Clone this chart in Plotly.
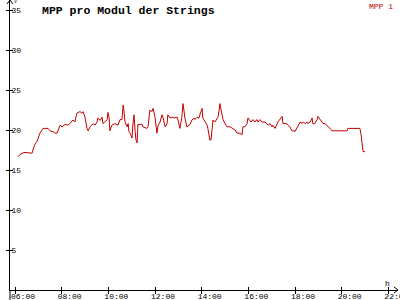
import plotly.graph_objects as go

title = "MPP pro Modul der Strings"
series_name = "MPP 1"
unit_y = "V"
unit_x = "h"

times = ["06:08","06:18","06:26","06:44","06:46","06:51","06:57","07:04","07:12","07:25",
         "07:30","07:38","07:43","07:48","07:56","08:01","08:09","08:16","08:21","08:29",
         "08:34","08:39","08:47","08:52","08:55","09:00","09:05","09:08","09:13","09:21",
         "09:26","09:31","09:33","09:39","09:44","09:46","09:51","09:57","09:59","10:02",
         "10:04","10:09","10:17","10:25","10:30","10:35","10:38","10:40","10:43","10:48",
         "10:51","10:53","10:56","11:01","11:03","11:06","11:09","11:11","11:14","11:16",
         "11:27","11:29","11:39","11:42","11:47","11:52","11:55","12:00","12:05","12:08",
         "12:13","12:18","12:21","12:26","12:31","12:33","12:39","12:44","12:49","12:57",
         "12:59","13:04","13:09","13:12","13:17","13:22","13:30","13:35","13:40","13:43",
         "13:48","13:53","13:56","14:01","14:03","14:09","14:14","14:16","14:19","14:21",
         "14:24","14:27","14:29","14:34","14:39","14:42","14:45","14:47","14:50","14:52",
         "14:55","15:00","15:05","15:13","15:21","15:26","15:31","15:39","15:44","15:46",
         "15:51","15:57","15:59","16:04","16:07","16:12","16:17","16:22","16:25","16:30",
         "16:35","16:43","16:48","16:51","16:56","17:01","17:03","17:09","17:16","17:27",
         "17:29","17:39","17:42","17:47","17:52","17:57","18:00","18:05","18:08","18:13",
         "18:18","18:21","18:26","18:31","18:33","18:39","18:44","18:46","18:51","18:57",
         "18:59","19:04","19:09","19:12","19:17","19:22","19:27","19:30","19:35","20:14",
         "20:16","20:47","20:50","20:52","20:55","21:00"]

values = [16.7,17.1,17.2,17.1,17.5,18.2,18.6,19.6,20.2,20.2,
          19.9,19.8,19.6,19.6,20.6,20.4,20.7,20.6,20.8,21.25,
          21.0,22.1,22.3,22.1,22.3,21.6,20.2,19.9,20.4,20.8,
          20.6,21.0,21.5,21.2,21.6,20.8,21.0,21.3,22.2,21.5,
          19.9,20.6,20.8,20.6,21.3,21.3,23.1,22.5,21.0,20.4,
          20.8,19.8,19.6,19.0,20.6,21.9,19.8,18.8,18.4,20.7,
          20.7,20.4,20.2,20.4,22.5,22.3,22.7,21.6,19.6,20.6,
          21.0,21.9,21.5,20.4,20.8,21.9,21.5,21.6,21.5,21.6,
          21.3,20.2,21.6,23.3,21.5,20.4,20.7,21.25,21.5,21.3,
          21.6,21.5,22.0,22.7,21.5,21.0,20.6,20.2,19.4,18.75,
          18.75,20.6,21.25,21.0,21.3,21.6,22.5,23.3,22.5,21.9,
          21.3,20.8,20.4,20.4,20.2,20.0,19.6,19.6,19.4,20.4,
          20.4,20.8,21.5,21.25,21.0,21.3,21.0,21.3,21.0,21.3,
          21.0,21.0,20.8,20.6,20.8,20.4,20.6,20.2,21.0,21.7,
          20.8,20.8,20.6,20.4,19.9,19.9,19.8,20.2,20.6,21.0,
          20.8,21.0,20.8,21.0,20.8,21.0,21.5,20.8,20.8,21.3,
          21.7,21.3,21.0,20.8,20.8,20.6,20.4,20.2,19.9,19.9,
          20.2,20.2,19.4,18.1,17.3,17.3]

x_ticks = [6, 8, 10, 12, 14, 16, 18, 20, 22]
x_tick_labels = ["06:00","08:00","10:00","12:00","14:00","16:00","18:00","20:00","22:00"]
y_ticks = [5, 10, 15, 20, 25, 30, 35]

def to_hours(s):
    h, m = s.split(":")
    return int(h) + int(m) / 60.0

hours = [to_hours(t) for t in times]

W, H = 400, 300
px_per_h = 23.333
x0_px, x1_px = 10, 398
x_range = [6 - (15 - x0_px) / px_per_h, 6 + (x1_px - 15) / px_per_h]
y_range = [0, 36.25]

red = "#c40000"
mono = "Liberation Mono, DejaVu Sans Mono, monospace"

fig = go.Figure()
fig.add_trace(go.Scatter(x=hours, y=values, mode="lines", name=series_name,
                         line=dict(color=red, width=1), showlegend=False,
                         xaxis="x", yaxis="y"))
fig.add_trace(go.Scatter(x=[None], y=[None], xaxis="x2", yaxis="y2",
                         showlegend=False, hoverinfo="skip"))

xdom = [x0_px / W, x1_px / W]
ydom = [10 / H, 1]

fig.update_layout(
    template="none",
    width=W, height=H,
    margin=dict(l=0, r=0, t=0, b=0, autoexpand=False),
    paper_bgcolor="white", plot_bgcolor="white",
    font=dict(family=mono, size=8, color="black"),
    xaxis=dict(domain=xdom, range=x_range, showgrid=False, zeroline=False,
               automargin=False,
               showline=True, linecolor="black", linewidth=1,
               tickmode="array", tickvals=x_ticks, ticktext=x_tick_labels,
               ticks="outside", ticklen=3, tickcolor="black", tickwidth=1,
               tickfont=dict(family=mono, size=8, color="black"),
               ticklabelshift=8, ticklabelstandoff=-5,
               ticklabeloverflow="allow"),
    yaxis=dict(domain=ydom, range=y_range, showgrid=False, zeroline=False,
               automargin=False,
               showline=True, linecolor="black", linewidth=1,
               tickmode="array", tickvals=y_ticks,
               ticks="outside", ticklen=3, tickcolor="black", tickwidth=1,
               ticklabelposition="inside", ticklabeloverflow="allow",
               tickfont=dict(family=mono, size=8, color="black")),
    xaxis2=dict(domain=xdom, range=x_range, overlaying="x", anchor="y2",
                automargin=False,
                showgrid=False, zeroline=False, showline=False,
                tickmode="array", tickvals=x_ticks, showticklabels=False,
                ticks="inside", ticklen=3, tickcolor="black", tickwidth=1),
    yaxis2=dict(domain=ydom, range=y_range, overlaying="y", anchor="x2",
                automargin=False,
                showgrid=False, zeroline=False, showline=False,
                tickmode="array", tickvals=y_ticks, showticklabels=False,
                ticks="inside", ticklen=3, tickcolor="black", tickwidth=1),
)

shapes = [
    dict(type="line", xref="paper", yref="paper", x0=xdom[0], x1=xdom[0],
         y0=0, y1=ydom[0], line=dict(color="black", width=1)),
    dict(type="path", xref="paper", yref="paper",
         path=f"M {(x0_px-3)/W} {1-4/H} L {x0_px/W} 1 L {(x0_px+3)/W} {1-4/H}",
         line=dict(color="black", width=1)),
    dict(type="path", xref="paper", yref="paper",
         path=f"M {(x1_px-4)/W} {ydom[0]+3/H} L {x1_px/W} {ydom[0]} L {(x1_px-4)/W} {ydom[0]-3/H}",
         line=dict(color="black", width=1)),
]
fig.update_layout(shapes=shapes)

fig.add_annotation(text=f"<b>{title}</b>", xref="paper", yref="paper",
                   x=40 / W, y=1 - 2 / H, xanchor="left", yanchor="top",
                   showarrow=False, font=dict(family=mono, size=11.5, color="black"))
fig.add_annotation(text=series_name, xref="paper", yref="paper",
                   x=395 / W, y=1 - 0 / H, xanchor="right", yanchor="top",
                   showarrow=False, font=dict(family=mono, size=8, color=red))
fig.add_annotation(text=unit_y, xref="paper", yref="paper",
                   x=12 / W, y=1 + 3 / H, xanchor="left", yanchor="top",
                   showarrow=False, font=dict(family=mono, size=5, color="black"))
fig.add_annotation(text=unit_x, xref="paper", yref="paper",
                   x=387 / W, y=1 - 277 / H, xanchor="center", yanchor="top",
                   showarrow=False, font=dict(family=mono, size=8, color="black"))

fig.write_html("out.html")
